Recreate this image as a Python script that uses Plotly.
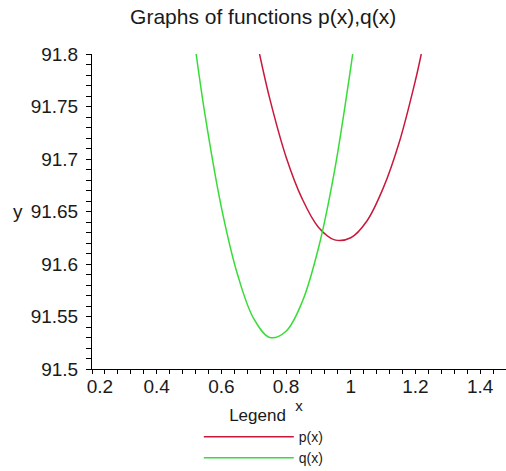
import plotly.graph_objects as go

# Values
p_x = [0.718, 0.75, 0.80, 0.85, 0.90, 0.95, 1.00, 1.05, 1.10, 1.15, 1.20, 1.218]
p_y = [91.800, 91.757, 91.702, 91.662, 91.635, 91.623, 91.625, 91.641, 91.672, 91.716, 91.775, 91.800]

q_x = [0.522, 0.55, 0.60, 0.65, 0.70, 0.75, 0.80, 0.85, 0.90, 0.95, 1.00, 1.006]
q_y = [91.800, 91.741, 91.654, 91.590, 91.548, 91.530, 91.536, 91.564, 91.615, 91.689, 91.787, 91.800]

x_ticks = [0.2, 0.4, 0.6, 0.8, 1.0, 1.2, 1.4]
x_ticklabels = ["\u00a0\u00a0\u00a00.2", "0.4", "0.6", "0.8", "1", "1.2", "1.4"]
y_ticks = [91.5, 91.55, 91.6, 91.65, 91.7, 91.75, 91.8]
y_ticklabels = ["91.5", "91.55", "91.6", "91.65", "91.7", "91.75", "91.8"]

FONT = "Liberation Sans, Arial, sans-serif"
TXT = "#1a1a1a"

fig = go.Figure()
fig.add_trace(go.Scatter(x=p_x, y=p_y, mode="lines", name="p(x)",
                         line=dict(color="#c8193c", width=1.5, shape="spline", smoothing=1.0)))
fig.add_trace(go.Scatter(x=q_x, y=q_y, mode="lines", name="q(x)",
                         line=dict(color="#38dc38", width=1.5, shape="spline", smoothing=1.0)))

fig.update_layout(
    width=506, height=471,
    margin=dict(l=92, r=0, t=54, b=102, autoexpand=False),
    paper_bgcolor="white", plot_bgcolor="white",
    font=dict(family=FONT, color=TXT, size=19),
    title=dict(text="Graphs of functions p(x),q(x)", x=0.52, xanchor="center",
               y=0.964, yanchor="middle", xref="container", yref="container",
               font=dict(size=21, color=TXT)),
    showlegend=True,
    legend=dict(
        title=dict(text="\u00a0\u00a0\u00a0\u00a0\u00a0\u00a0Legend", side="top", font=dict(size=17)),
        x=0.258, xanchor="left", y=-0.095, yanchor="top",
        bgcolor="rgba(0,0,0,0)", font=dict(size=14),
        tracegroupgap=0, itemwidth=90,
    ),
    xaxis=dict(
        range=[0.2, 1.48], tickmode="array", tickvals=x_ticks, ticktext=x_ticklabels,
        showgrid=False, zeroline=False, showline=True, linecolor="black", linewidth=1,
        ticks="outside", ticklen=4, tickcolor="black", automargin=False,
        minor=dict(dtick=0.04, ticks="outside", ticklen=4, tickcolor="black", showgrid=False),
        tickfont=dict(size=19), ticklabelstandoff=-4,
        title=dict(text="x", font=dict(size=15), standoff=0),
    ),
    yaxis=dict(
        range=[91.5, 91.8], tickmode="array", tickvals=y_ticks, ticktext=y_ticklabels,
        showgrid=False, zeroline=False, showline=True, linecolor="black", linewidth=1,
        ticks="outside", ticklen=5, tickcolor="black", automargin=False,
        minor=dict(dtick=0.01, ticks="outside", ticklen=5, tickcolor="black", showgrid=False),
        tickfont=dict(size=19), ticklabelstandoff=4,
    ),
)

fig.add_annotation(text="y", x=-0.178, xref="paper", y=91.65, yref="y",
                   showarrow=False, font=dict(size=19, color=TXT), xanchor="center")

fig.write_html("out.html", config={"displayModeBar": False},
               post_script="document.body.style.margin='0';document.body.style.overflow='hidden';")
